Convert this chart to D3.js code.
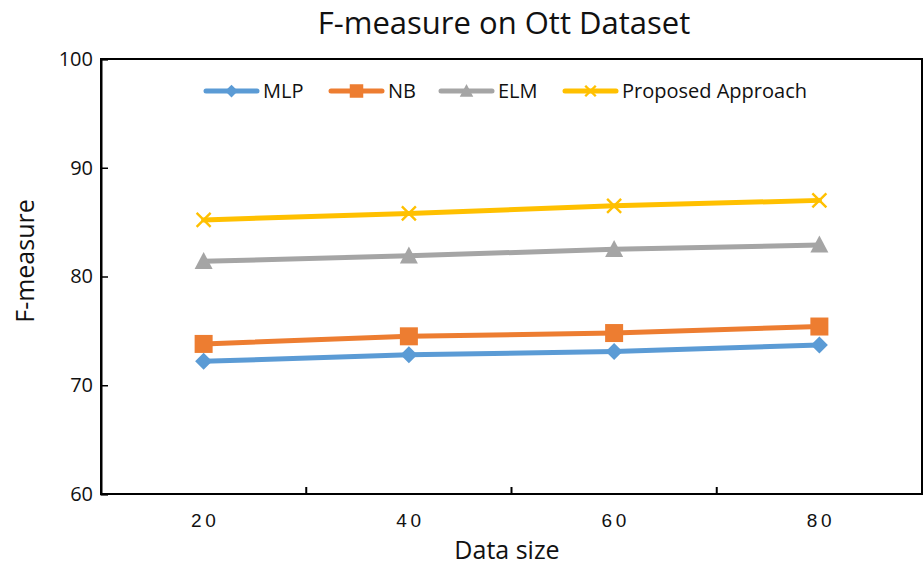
<!DOCTYPE html>
<html>
<head>
<meta charset="utf-8">
<script src="https://cdn.jsdelivr.net/npm/d3@7/dist/d3.min.js"></script>
<style>
  html, body { margin: 0; padding: 0; background: #fff; }
  svg { display: block; font-family: "Open Sans", "Noto Sans", sans-serif; }
</style>
</head>
<body>
<svg id="chart" width="924" height="568"></svg>
<script>
// Data sizes (x categories)
const categories = ["20", "40", "60", "80"];
// F-measure per method
const mlp      = [72.2, 72.8, 73.1, 73.7];
const nb       = [73.8, 74.5, 74.8, 75.4];
const elm      = [81.4, 81.9, 82.5, 82.9];
const proposed = [85.2, 85.8, 86.5, 87.0];
const yTicks = [60, 70, 80, 90, 100];

const series = [
  { name: "MLP", values: mlp, color: "#5B9BD5", symbol: "diamond" },
  { name: "NB", values: nb, color: "#ED7D31", symbol: "square" },
  { name: "ELM", values: elm, color: "#A5A5A5", symbol: "triangle" },
  { name: "Proposed Approach", values: proposed, color: "#FFC000", symbol: "cross" }
];

const svg = d3.select("#chart");
const m = { left: 101, right: 922, top: 59, bottom: 494 };

const x = d3.scaleBand().domain(categories).range([m.left, m.right]).padding(0);
const y = d3.scaleLinear().domain([60, 100]).range([m.bottom, m.top]);

// Title
svg.append("text")
  .attr("x", 504).attr("y", 34)
  .attr("text-anchor", "middle")
  .attr("font-size", 31)
  .attr("fill", "#111")
  .text("F-measure on Ott Dataset");

// Plot frame
svg.append("rect")
  .attr("x", m.left).attr("y", m.top)
  .attr("width", m.right - m.left).attr("height", m.bottom - m.top)
  .attr("fill", "none").attr("stroke", "#000").attr("stroke-width", 2);

// Y axis
const yAxis = svg.append("g")
  .attr("transform", `translate(${m.left},0)`)
  .call(d3.axisLeft(y).tickValues(yTicks).tickSize(-7).tickPadding(8));
yAxis.select(".domain").attr("stroke", "#000").attr("stroke-width", 2);
yAxis.selectAll(".tick line").attr("stroke", "#000").attr("stroke-width", 1.5);
yAxis.selectAll(".tick text")
  .attr("font-size", 20).attr("fill", "#111")
  .attr("font-family", "Open Sans, sans-serif");

// X axis: ticks sit between categories
const xAxis = svg.append("g")
  .attr("transform", `translate(0,${m.bottom})`)
  .call(d3.axisBottom(x).tickSize(0).tickPadding(20));
xAxis.select(".domain").remove();
xAxis.selectAll(".tick text")
  .attr("font-size", 19).attr("fill", "#111")
  .attr("letter-spacing", "3.5px")
  .attr("dx", "1.5px");
svg.append("g").selectAll("line")
  .data(categories.slice(1))
  .join("line")
  .attr("x1", d => x(d)).attr("x2", d => x(d))
  .attr("y1", m.bottom).attr("y2", m.bottom - 7)
  .attr("stroke", "#000").attr("stroke-width", 2);

// Axis titles
svg.append("text")
  .attr("x", 507).attr("y", 559)
  .attr("text-anchor", "middle")
  .attr("font-size", 25).attr("fill", "#111")
  .text("Data size");
svg.append("text")
  .attr("transform", `translate(34,261) rotate(-90)`)
  .attr("text-anchor", "middle")
  .attr("font-size", 25).attr("fill", "#111")
  .text("F-measure");

// Marker drawing
function marker(g, s, cx, cy, scale = 1) {
  const c = s.color;
  if (s.symbol === "diamond") {
    const r = 8.5 * scale;
    g.append("path")
      .attr("d", `M${cx},${cy - r}L${cx + r},${cy}L${cx},${cy + r}L${cx - r},${cy}Z`)
      .attr("fill", c);
  } else if (s.symbol === "square") {
    const h = 9 * scale;
    g.append("rect")
      .attr("x", cx - h).attr("y", cy - h)
      .attr("width", 2 * h).attr("height", 2 * h)
      .attr("fill", c);
  } else if (s.symbol === "triangle") {
    const w = 9 * scale, hh = 17 * scale;
    g.append("path")
      .attr("d", `M${cx},${cy - hh * 0.55}L${cx + w},${cy + hh * 0.45}L${cx - w},${cy + hh * 0.45}Z`)
      .attr("fill", c);
  } else {
    const r = 7 * scale;
    g.append("path")
      .attr("d", `M${cx - r},${cy - r}L${cx + r},${cy + r}M${cx - r},${cy + r}L${cx + r},${cy - r}`)
      .attr("stroke", c).attr("stroke-width", 2.4).attr("fill", "none");
  }
}

// Lines and markers
const line = d3.line()
  .x((d, i) => x(categories[i]) + x.bandwidth() / 2)
  .y(d => y(d));

series.forEach(s => {
  const g = svg.append("g");
  g.append("path")
    .datum(s.values)
    .attr("d", line)
    .attr("fill", "none")
    .attr("stroke", s.color)
    .attr("stroke-width", 5)
    .attr("stroke-linecap", "round");
  s.values.forEach((v, i) => {
    marker(g, s, x(categories[i]) + x.bandwidth() / 2, y(v));
  });
});

// Legend
const legendX = [206, 331, 441, 565];
const legendY = 91;
series.forEach((s, i) => {
  const g = svg.append("g");
  const x0 = legendX[i];
  g.append("line")
    .attr("x1", x0).attr("x2", x0 + 51)
    .attr("y1", legendY).attr("y2", legendY)
    .attr("stroke", s.color).attr("stroke-width", 5)
    .attr("stroke-linecap", "round");
  marker(g, s, x0 + 25.5, legendY, 0.75);
  g.append("text")
    .attr("x", x0 + 57).attr("y", legendY + 7)
    .attr("font-size", 20).attr("fill", "#111")
    .text(s.name);
});
</script>
</body>
</html>
